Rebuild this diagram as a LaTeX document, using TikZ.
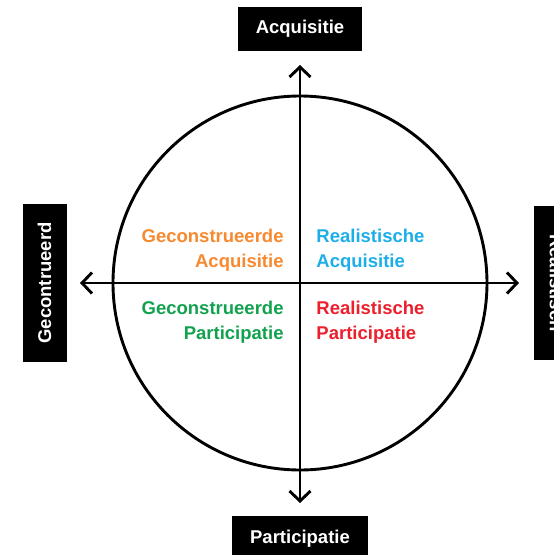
\documentclass[tikz,border=0pt]{standalone}
\usepackage{fontspec}
\setmainfont{Liberation Sans}
\usetikzlibrary{positioning,arrows.meta}
\tikzset{>={Straight Barb[length=10pt,width=21pt]}}
\definecolor{gaorange}{HTML}{F7892F}
\definecolor{rablue}{HTML}{1DAEEA}
\definecolor{gpgreen}{HTML}{12A24F}
\definecolor{rpred}{HTML}{EC1F2D}

\begin{document}
\begin{tikzpicture}[x=1pt,y=1pt,line width=2.9pt,
	box/.style={fill=black,text=white,font=\bfseries\fontsize{18.5}{20}\selectfont,minimum height=44pt,inner xsep=18pt},
	quad/.style={font=\bfseries\fontsize{18.5}{25}\selectfont,inner sep=2pt}]
	\useasboundingbox (-300,-272) rectangle (254,283);
	\coordinate (O) at (0,0);
	\draw (O) circle (187);
	
	\coordinate (N) at (0,218);
	\coordinate (S) at (0,-220);
	\coordinate (W) at (-220,0);
	\coordinate (E) at (219,0);
	\draw[<->] (S) -- (N);
	\draw[<->] (W) -- (E);
	
	\node(Acq) [box, above=13pt of N] {Acquisitie};
	\node(Par) [box, below=12pt of S] {Participatie};
	\node(Gec) [box, rotate=90, anchor=south, minimum width=154pt] at ([xshift=-12pt]W) {Gecontrueerd};
	\node(Rea) [box, rotate=-90, anchor=south, minimum width=154pt] at ([xshift=14pt]E) {Realistisch};
	
	\node(GA) [quad, text=gaorange, align=right, above left=8pt and 13pt of O] {Geconstrueerde\\Acquisitie};
	\node(RA) [quad, text=rablue, align=left, above right=8pt and 13pt of O] {Realistische\\Acquisitie};
	\node(GP) [quad, text=gpgreen, align=right, below left=15pt and 13pt of O] {Geconstrueerde\\Participatie};
	\node(RP) [quad, text=rpred, align=left, below right=15pt and 13pt of O] {Realistische\\Participatie};
\end{tikzpicture}
\end{document}
